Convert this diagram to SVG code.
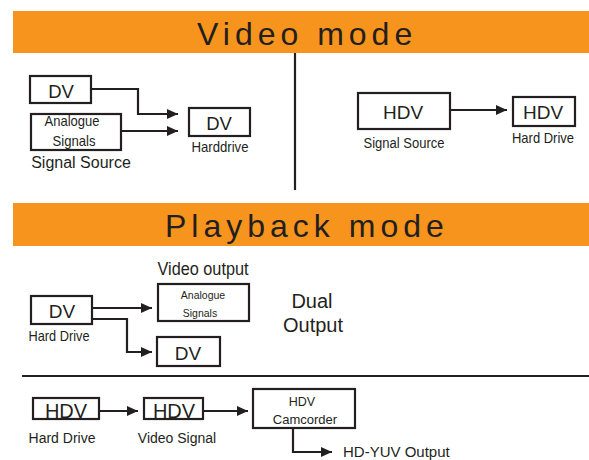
<svg xmlns="http://www.w3.org/2000/svg" width="589" height="460" viewBox="0 0 589 460">
  <style>
    text { font-family: "Liberation Sans", Arial, sans-serif; fill: #231f20; }
    .box { fill: #fff; stroke: #231f20; stroke-width: 2.2; }
    .band { fill: #f7941d; }
    .title { font-size: 32px; letter-spacing: 5px; }
    .c { text-anchor: middle; }
    .conn { fill: none; stroke: #231f20; stroke-width: 2.2; }
    .rule { stroke: #231f20; stroke-width: 2.2; }
  </style>
  <defs>
    <marker id="ah" markerUnits="userSpaceOnUse" markerWidth="11" markerHeight="10" refX="11" refY="5" orient="auto">
      <path d="M0,0 L11,5 L0,10 z" fill="#231f20"/>
    </marker>
  </defs>

  <g id="video-mode-header">
    <rect class="band" x="13" y="11" width="576" height="42"/>
    <text class="title" x="197" y="45">Video mode</text>
  </g>
  <line class="rule" x1="295" y1="53" x2="295" y2="190"/>

  <g id="vm-dv-source">
    <rect class="box" x="30" y="76" width="61" height="27"/>
    <text class="c" x="61" y="98" font-size="18.5">DV</text>
  </g>
  <g id="vm-analogue-source">
    <rect class="box" x="31" y="114" width="90" height="36"/>
    <text class="c" x="72" y="126" font-size="15" textLength="55" lengthAdjust="spacingAndGlyphs">Analogue</text>
    <text class="c" x="74" y="146" font-size="15" textLength="43" lengthAdjust="spacingAndGlyphs">Signals</text>
    <text class="c" x="81" y="168" font-size="16">Signal Source</text>
  </g>
  <g id="vm-dv-harddrive">
    <rect class="box" x="189" y="108" width="61" height="28"/>
    <text class="c" x="219" y="130" font-size="18.5">DV</text>
    <text class="c" x="220" y="152" font-size="14.5" textLength="57" lengthAdjust="spacingAndGlyphs">Harddrive</text>
  </g>
  <g id="vm-hdv-source">
    <rect class="box" x="358" y="93" width="92" height="36"/>
    <text class="c" x="403" y="119" font-size="19">HDV</text>
    <text class="c" x="404" y="148" font-size="15.5" textLength="81" lengthAdjust="spacingAndGlyphs">Signal Source</text>
  </g>
  <g id="vm-hdv-harddrive">
    <rect class="box" x="513" y="97" width="62" height="29"/>
    <text class="c" x="543" y="119" font-size="19">HDV</text>
    <text class="c" x="543" y="143" font-size="14.5" textLength="62" lengthAdjust="spacingAndGlyphs">Hard Drive</text>
  </g>

  <g id="playback-mode-header">
    <rect class="band" x="13" y="203" width="576" height="43"/>
    <text class="title" x="165" y="237">Playback mode</text>
  </g>

  <g id="pm-dv-harddrive">
    <rect class="box" x="31" y="296" width="61" height="28"/>
    <text class="c" x="62" y="318" font-size="19">DV</text>
    <text class="c" x="59" y="341" font-size="15" textLength="61" lengthAdjust="spacingAndGlyphs">Hard Drive</text>
  </g>
  <g id="pm-analogue-output">
    <text class="c" x="203" y="275" font-size="18" textLength="91" lengthAdjust="spacingAndGlyphs">Video output</text>
    <rect class="box" x="158" y="284" width="91" height="37"/>
    <text class="c" x="203" y="299" font-size="10.5">Analogue</text>
    <text class="c" x="200" y="317" font-size="10.5">Signals</text>
  </g>
  <g id="pm-dv-output">
    <rect class="box" x="157" y="337" width="63" height="29"/>
    <text class="c" x="188" y="360" font-size="19">DV</text>
  </g>
  <g id="pm-dual-output-label">
    <text class="c" x="312" y="308" font-size="20">Dual</text>
    <text class="c" x="313" y="332" font-size="20">Output</text>
  </g>
  <line class="rule" x1="22" y1="376" x2="589" y2="376"/>

  <g id="pm-hdv-harddrive">
    <rect class="box" x="33" y="398" width="66" height="21"/>
    <text class="c" x="66" y="418" font-size="20">HDV</text>
    <text class="c" x="62" y="443" font-size="14">Hard Drive</text>
  </g>
  <g id="pm-hdv-videosignal">
    <rect class="box" x="144" y="398" width="59" height="21"/>
    <text class="c" x="174" y="418" font-size="20">HDV</text>
    <text class="c" x="177" y="443" font-size="14">Video Signal</text>
  </g>
  <g id="pm-hdv-camcorder">
    <rect class="box" x="253" y="389" width="102" height="39"/>
    <text class="c" x="302" y="406" font-size="12.5">HDV</text>
    <text class="c" x="305" y="424" font-size="13">Camcorder</text>
  </g>
  <g id="pm-hdyuv-output">
    <text x="343" y="457" font-size="15">HD-YUV Output</text>
  </g>

  <g id="connectors">
    <path class="conn" d="M91,89 H138 V114 H178" marker-end="url(#ah)"/>
    <path class="conn" d="M121,131 H178" marker-end="url(#ah)"/>
    <path class="conn" d="M450,110 H507" marker-end="url(#ah)"/>
    <path class="conn" d="M92,308 H152" marker-end="url(#ah)"/>
    <path class="conn" d="M92,319 H127 V352 H152" marker-end="url(#ah)"/>
    <path class="conn" d="M99,411 H138" marker-end="url(#ah)"/>
    <path class="conn" d="M203,411 H248" marker-end="url(#ah)"/>
    <path class="conn" d="M293,428 V452 H332" marker-end="url(#ah)"/>
  </g>
</svg>
